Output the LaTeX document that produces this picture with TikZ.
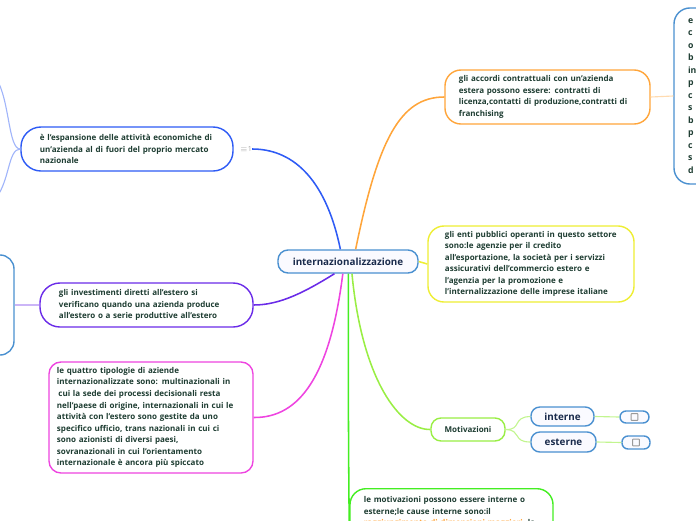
\documentclass[tikz,border=0pt]{standalone}
\usepackage{fontspec}
\setmainfont{Open Sans}
\usetikzlibrary{positioning}

\definecolor{testo}{HTML}{1E3D32}
\definecolor{navy}{HTML}{1A2B4C}
\definecolor{celeste}{HTML}{4A90D0}
\definecolor{blu}{HTML}{2E5BF5}
\definecolor{viola}{HTML}{6A2BE8}
\definecolor{rosa}{HTML}{EE44E0}
\definecolor{arancio}{HTML}{FFA53A}
\definecolor{giallo}{HTML}{EEEE33}
\definecolor{verde}{HTML}{44EE22}
\definecolor{lime}{HTML}{99EE44}

\tikzset{
  testobox/.style={draw, line width=1pt, fill=white, text=testo, align=left,
    font=\bfseries\fontsize{5.7}{8.2}\selectfont, inner ysep=0pt},
  etichetta/.style={draw=celeste, line width=1pt, fill=blue!2, rounded corners=0.25cm,
    text=navy, inner sep=0pt},
  ramo/.style={line width=1.1pt},
  ramino/.style={line width=0.8pt}
}

\begin{document}
\begin{tikzpicture}[x=0.025cm,y=-0.025cm]
  \useasboundingbox (0,0) rectangle (696,520);
  \clip (0,0) rectangle (696,520);

  % nodo centrale
  \node[etichetta, minimum width=3.5cm, minimum height=0.575cm,
    font=\bfseries\fontsize{7}{8}\selectfont] (centro) at (348,261.5) {internazionalizzazione};

  % definizione (in alto a sinistra)
  \node[testobox, draw=blu, rounded corners=0.5cm, text width=4.35cm, inner xsep=0.475cm,
    minimum height=1.1cm] (defin) at (127,149)
    {è l'espansione delle attività economiche di\\un'azienda al di fuori del proprio mercato\\nazionale};
  \node[text=gray!70, font=\fontsize{5}{6}\selectfont, inner sep=0pt] (nota) at (246,149) {$\equiv$1};
  \coordinate (su) at (-4,78);
  \coordinate (giu) at (-4,198);

  % investimenti diretti
  \node[testobox, draw=viola, rounded corners=0.5cm, text width=4.375cm, inner xsep=0.475cm,
    minimum height=1.1cm] (invest) at (146.5,305)
    {gli investimenti diretti all'estero si\\verificano quando una azienda produce\\all'estero o a serie produttive all'estero};
  \node[draw=celeste, line width=1pt, rounded corners=0.35cm, minimum width=2cm,
    minimum height=2.5cm] (sinistra) at (-26,305) {};

  % tipologie di aziende
  \node[testobox, draw=rosa, rounded corners=0.3cm, text width=4.7cm, inner xsep=0.2cm,
    minimum height=2.775cm] (tipol) at (151,417.5)
    {le quattro tipologie di aziende\\internazionalizzate sono: multinazionali in\\\hspace*{1pt}cui la sede dei processi decisionali resta\\nell'paese di origine, internazionali in cui le\\attività con l'estero sono gestite da uno\\specifico ufficio, trans nazionali in cui ci\\sono azionisti di diversi paesi,\\sovranazionali in cui l'orientamento\\internazionale è ancora più spiccato};

  % accordi contrattuali
  \node[testobox, draw=arancio, rounded corners=0.4cm, text width=4.425cm, inner xsep=0.35cm,
    minimum height=1.35cm] (accordi) at (547.5,97)
    {gli accordi contrattuali con un'azienda\\estera possono essere: contratti di\\licenza,contatti di produzione,contratti di\\franchising};
  \node[testobox, draw=celeste, rounded corners=0.4cm, text width=1.1cm, inner xsep=0.35cm,
    minimum height=4.4cm, font=\bfseries\fontsize{6.2}{8.9}\selectfont] (esempi) at (710,96)
    {e\\c\\o\\b\\in\\p\\c\\s\\b\\p\\c\\s\\d};

  % enti pubblici
  \node[testobox, draw=giallo, rounded corners=0.4cm, text width=4.3cm, inner xsep=0.425cm,
    minimum height=1.9cm] (enti) at (531,264)
    {gli enti pubblici operanti in questo settore\\sono:le agenzie per il credito\\all'esportazione, la società per i servizzi\\assicurativi dell'commercio estero e\\l'agenzia per la promozione e\\l'internalizzazione delle imprese italiane};

  % motivazioni
  \node[testobox, draw=lime, rounded corners=0.25cm, minimum width=1.85cm,
    minimum height=0.575cm, inner xsep=0pt] (motiv) at (468,429.5) {Motivazioni};
  \node[etichetta, rounded corners=0.22cm, minimum width=1.575cm, minimum height=0.475cm,
    font=\bfseries\fontsize{7}{8}\selectfont] (interne) at (562.5,416.5) {interne};
  \node[etichetta, rounded corners=0.22cm, minimum width=1.625cm, minimum height=0.5cm,
    font=\bfseries\fontsize{7}{8}\selectfont] (esterne) at (563.5,442) {esterne};
  \node[etichetta, rounded corners=0.15cm, minimum width=0.725cm, minimum height=0.3cm] (nint) at (634.5,417) {};
  \node[etichetta, rounded corners=0.15cm, minimum width=0.7cm, minimum height=0.325cm] (nest) at (636,442.5) {};
  \foreach \q in {nint,nest}
    \draw[gray!80, line width=0.6pt, rounded corners=0.3pt] ([xshift=-2.4pt,yshift=-2.4pt]\q.center) rectangle ([xshift=2.4pt,yshift=2.4pt]\q.center);

  % cause (in basso, tagliato)
  \node[testobox, draw=verde, rounded corners=0.4cm, text width=4.375cm, inner xsep=0.35cm,
    inner ysep=0.2cm, text depth=1.5cm, anchor=north] (cause) at (451.5,488)
    {le motivazioni possono essere interne o\\esterne;le cause interne sono:il\\{\color{arancio}raggiungimento di dimensioni maggiori}, la};

  % rami
  \draw[ramo, blu] (centro.122) .. controls (325,175) and (290,149) .. (nota.east);
  \draw[ramino, blu!45] (defin.west) .. controls (8,149) and (10,100) .. (su);
  \draw[ramino, blu!45] (defin.west) .. controls (8,149) and (10,180) .. (giu);
  \draw[ramo, arancio] (centro.58) .. controls (378,140) and (400,97) .. (accordi.west);
  \draw[ramino, arancio!40] (accordi.east) -- (esempi.west);
  \draw[ramo, viola] (centro.-138) .. controls (305,292) and (280,305) .. (invest.east);
  \draw[ramino, viola!35] (sinistra.east) -- (invest.west);
  \draw[ramo, rosa] (centro.-113) .. controls (330,375) and (300,418) .. (tipol.east);
  \draw[ramo, giallo] (centro.east) -- (enti.west);
  \draw[ramo, lime] (centro.-72) .. controls (362,380) and (400,430) .. (motiv.west);
  \draw[ramo, verde] (centro.-88) .. controls (348,420) and (349,500) .. (cause.west);
  \draw[ramino, lime!60] (motiv.east) .. controls (522,430) and (512,417) .. (interne.west);
  \draw[ramino, lime!60] (motiv.east) .. controls (522,430) and (512,442) .. (esterne.west);
  \draw[ramino, lime!60] (interne.east) -- (nint.west);
  \draw[ramino, lime!60] (esterne.east) -- (nest.west);
\end{tikzpicture}
\end{document}
